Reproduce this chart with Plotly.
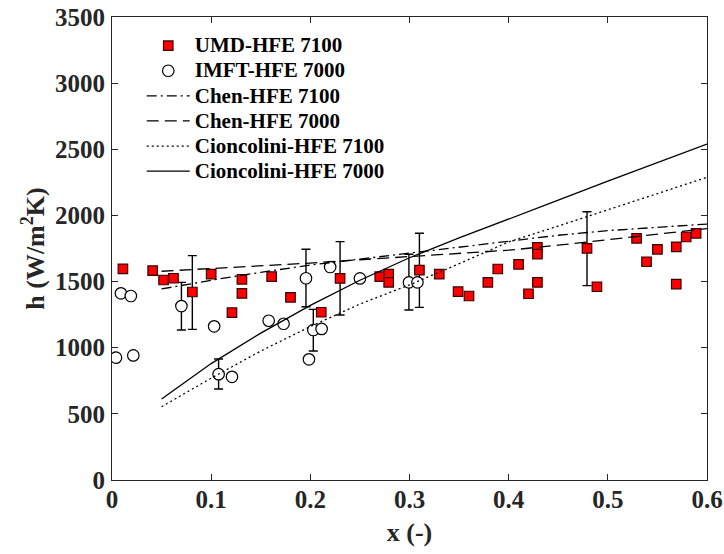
import plotly.graph_objects as go

# ---------------- data ----------------
umd_x = [0.011, 0.041, 0.052, 0.062, 0.081, 0.100, 0.121, 0.131, 0.131, 0.161, 0.180,
         0.211, 0.230, 0.270, 0.279, 0.279, 0.310, 0.330, 0.349, 0.360, 0.379, 0.389,
         0.410, 0.420, 0.429, 0.429, 0.429, 0.479, 0.489, 0.529, 0.539, 0.550, 0.569,
         0.569, 0.579, 0.589]
umd_h = [1596, 1582, 1512, 1525, 1421, 1557, 1265, 1517, 1411, 1537, 1381,
         1268, 1524, 1537, 1557, 1494, 1587, 1557, 1424, 1391, 1494, 1595,
         1630, 1408, 1759, 1708, 1494, 1751, 1461, 1827, 1650, 1744, 1763,
         1481, 1837, 1865]

umd_err_x = [0.081, 0.230, 0.310, 0.479]
umd_err_h = [1421, 1524, 1587, 1751]
umd_err_hi = [1696, 1802, 1865, 2028]
umd_err_lo = [1139, 1247, 1305, 1469]

imft_x = [0.004, 0.009, 0.019, 0.0215, 0.070, 0.103, 0.1075, 0.121, 0.158, 0.173,
          0.1956, 0.1986, 0.203, 0.2114, 0.220, 0.250, 0.2994, 0.308]
imft_h = [925, 1411, 1391, 942, 1315, 1162, 800, 780, 1204, 1181,
          1525, 912, 1134, 1142, 1610, 1524, 1494, 1494]

imft_err_x = [0.070, 0.1075, 0.1956, 0.203, 0.2994]
imft_err_h = [1315, 800, 1525, 1134, 1494]
imft_err_hi = [1494, 915, 1744, 1290, 1706]
imft_err_lo = [1134, 688, 1310, 975, 1285]

model_x = [0.05, 0.10, 0.15, 0.20, 0.25, 0.30, 0.35, 0.40, 0.45, 0.50, 0.55, 0.60]
chen_7100 = [1444, 1510, 1570, 1625, 1670, 1715, 1760, 1800, 1850, 1885, 1910, 1935]
chen_7000 = [1578, 1597, 1617, 1640, 1665, 1690, 1712, 1737, 1775, 1815, 1855, 1900]
cion_7100 = [554, 770, 975, 1160, 1330, 1475, 1635, 1800, 1920, 2040, 2165, 2288]
cion_7000 = [612, 880, 1110, 1320, 1510, 1680, 1830, 1970, 2115, 2260, 2400, 2540]

x_ticks = [0, 0.1, 0.2, 0.3, 0.4, 0.5, 0.6]
x_tick_text = ["0", "0.1", "0.2", "0.3", "0.4", "0.5", "0.6"]
y_ticks = [0, 500, 1000, 1500, 2000, 2500, 3000, 3500]

series_names = ["UMD-HFE 7100", "IMFT-HFE 7000", "Chen-HFE 7100", "Chen-HFE 7000",
                "Cioncolini-HFE 7100", "Cioncolini-HFE 7000"]

# ---------------- figure ----------------
FONT = "Liberation Serif, Times New Roman, serif"
fig = go.Figure()


def legend_label(s):
    return '<span style="font-size:21px">' + s + "</span>"


def err_trace(xs, hs, hi, lo):
    return go.Scatter(
        x=xs, y=hs, mode="markers", showlegend=False, hoverinfo="skip",
        marker=dict(size=1, opacity=0),
        error_y=dict(type="data", symmetric=False,
                     array=[a - b for a, b in zip(hi, hs)],
                     arrayminus=[b - c for b, c in zip(hs, lo)],
                     color="black", thickness=1.4, width=4.5),
    )


fig.add_trace(err_trace(umd_err_x, umd_err_h, umd_err_hi, umd_err_lo))
fig.add_trace(err_trace(imft_err_x, imft_err_h, imft_err_hi, imft_err_lo))

fig.add_trace(go.Scatter(
    x=umd_x, y=umd_h, mode="markers", name=legend_label(series_names[0]),
    marker=dict(symbol="square", size=9.5, color="#ff0000",
                line=dict(color="#3a0000", width=1.2)),
))
fig.add_trace(go.Scatter(
    x=imft_x, y=imft_h, mode="markers", name=legend_label(series_names[1]),
    marker=dict(symbol="circle", size=11.5, color="white",
                line=dict(color="black", width=1.2)),
))
fig.add_trace(go.Scatter(
    x=model_x, y=chen_7100, mode="lines", name=legend_label(series_names[2]),
    line=dict(color="black", width=1.3, dash="10px,4px,2px,4px"),
))
fig.add_trace(go.Scatter(
    x=model_x, y=chen_7000, mode="lines", name=legend_label(series_names[3]),
    line=dict(color="black", width=1.3, dash="12px,6px"),
))
fig.add_trace(go.Scatter(
    x=model_x, y=cion_7100, mode="lines", name=legend_label(series_names[4]),
    line=dict(color="black", width=1.3, dash="2px,3px"),
))
fig.add_trace(go.Scatter(
    x=model_x, y=cion_7000, mode="lines", name=legend_label(series_names[5]),
    line=dict(color="black", width=1.3),
))

TICKFONT = dict(family=FONT, size=25, color="#262626", weight="bold")
axis_common = dict(
    showgrid=False, zeroline=False, showline=True, linecolor="#262626",
    linewidth=1, mirror="ticks", ticks="inside", ticklen=6, tickwidth=1,
    tickcolor="#262626", automargin=False, tickfont=TICKFONT,
)

fig.update_layout(
    width=724, height=554,
    margin=dict(l=112, r=17, t=17, b=74),
    paper_bgcolor="white", plot_bgcolor="white",
    font=dict(family=FONT, color="black"),
    xaxis=dict(range=[0, 0.6], tickvals=x_ticks, ticktext=x_tick_text,
               ticklabelstandoff=-3,
               title=dict(text="<b>x (-)</b>",
                          font=dict(family=FONT, size=26, color="#262626"),
                          standoff=10),
               **axis_common),
    yaxis=dict(range=[0, 3500], tickvals=y_ticks, ticklabelstandoff=1,
               title=dict(text="<b>h (W/m<sup>2</sup>K)</b>",
                          font=dict(family=FONT, size=26, color="#262626"),
                          standoff=2),
               **axis_common),
    legend=dict(x=0.05, y=0.976, xanchor="left", yanchor="top",
                bgcolor="rgba(0,0,0,0)", borderwidth=0, itemwidth=43,
                font=dict(family=FONT, size=17, color="black", weight="bold"),
                tracegroupgap=0),
)

# remove the default 8px page margin so the 724x554 figure fills the window
fig.write_html("out.html",
               config={"displayModeBar": False},
               post_script="document.body.style.margin='0';"
                           "document.body.style.overflow='hidden';")
